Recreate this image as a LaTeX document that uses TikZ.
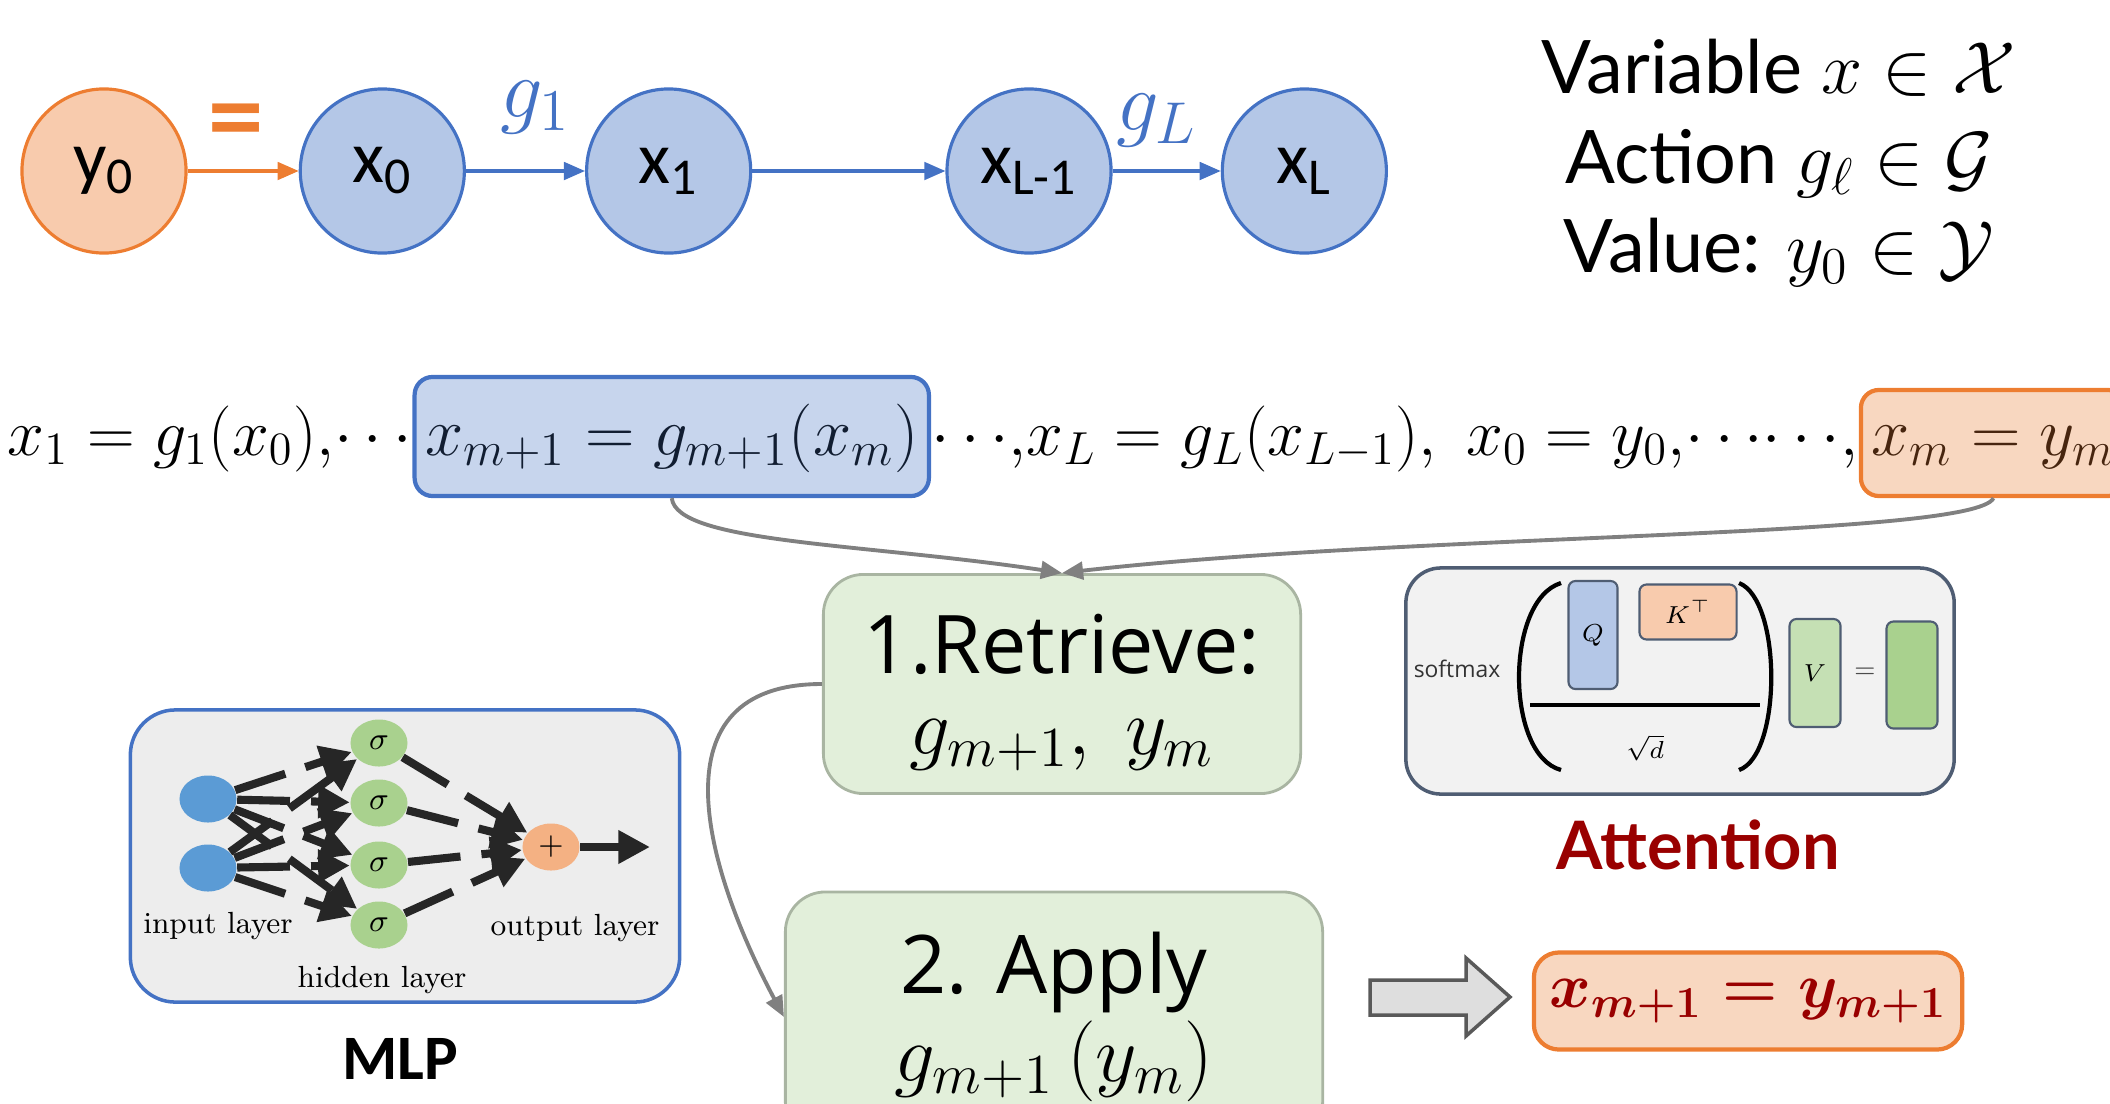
\RequirePackage{fix-cm}
\documentclass[tikz,border=0pt]{standalone}
\usepackage{amsmath,amssymb}
\usepackage{fontspec}
\usetikzlibrary{positioning,arrows.meta,shapes.geometric}

\newfontfamily\calibri{Carlito}
\newfontfamily\gillfont{Lato}
\newfontfamily\handfont{Open Sans}

\definecolor{accentorange}{HTML}{ED7D31}
\definecolor{peach}{HTML}{F8CBAD}
\definecolor{peachlight}{HTML}{F8D7C0}
\definecolor{accentblue}{HTML}{4472C4}
\definecolor{paleblue}{HTML}{B4C7E7}
\definecolor{eqblue}{HTML}{C7D5ED}
\definecolor{palegreen}{HTML}{E2EFDA}
\definecolor{greenedge}{HTML}{A9B5A2}
\definecolor{deepred}{HTML}{990000}
\definecolor{linkgray}{HTML}{808080}
\definecolor{slate}{HTML}{4F5D73}
\definecolor{unitblue}{HTML}{5B9BD5}
\definecolor{unitgreen}{HTML}{A9D18E}
\definecolor{unitorange}{HTML}{F4B183}
\definecolor{vgreen}{HTML}{C5E0B4}

\begin{document}
\begin{tikzpicture}[x=0.01cm, y=-0.01cm,
    var/.style={circle, draw=accentblue, fill=paleblue, line width=0.9pt, minimum size=1.64cm, inner sep=0pt, font=\calibri\fontsize{21}{21}\selectfont},
    val/.style={var, draw=accentorange, fill=peach},
    chainarrow/.style={line width=0.9pt, -{Triangle[length=6pt,width=5pt]}},
    eqbox/.style={rounded corners=0.18cm, line width=1.2pt, inner xsep=3pt, inner ysep=0pt, text depth=0.41cm, font=\fontsize{19.5}{22}\selectfont},
    eqfont/.style={font=\fontsize{18.8}{22}\selectfont},
    link/.style={draw=linkgray, line width=1.1pt, -{Triangle[length=6pt,width=5pt]}},
    stepbox/.style={rounded corners=0.4cm, draw=greenedge, fill=palegreen, line width=0.8pt, align=center, font=\handfont\fontsize{23}{25}\selectfont},
    neuron/.style={ellipse, inner sep=0pt, minimum width=0.57cm, minimum height=0.47cm, font=\fontsize{9}{9}\selectfont},
    mlpedge/.style={draw=black!85, line width=2.3pt, dash pattern=on 15pt off 6pt, -{Triangle[length=9pt,width=9pt]}},
    tag/.style={font=\fontsize{8.7}{9}\selectfont},
    mat/.style={rounded corners=2pt, draw=slate, line width=0.6pt, inner sep=0pt, font=\fontsize{7}{7}\selectfont}]
    \useasboundingbox (0,0) rectangle (2110,1103);

    % top chain
    \node[val] (y0) at (104,171) {y\textsubscript{0}};
    \node[var] (x0) [right=1.11cm of y0] {x\textsubscript{0}};
    \node[var] (x1) [right=1.19cm of x0] {x\textsubscript{1}};
    \node[var] (xl1) [right=1.93cm of x1] {x\textsubscript{L-1}};
    \node[var] (xl) [right=1.08cm of xl1] {x\textsubscript{L}};

    \draw[chainarrow, accentorange] (y0) -- node[yshift=0.42cm, xshift=-0.07cm, text=accentorange, font=\gillfont\bfseries\fontsize{30}{30}\selectfont] {=} (x0);
    \draw[chainarrow, accentblue] (x0) -- node[yshift=0.63cm, xshift=0.1cm, text=accentblue, font=\fontsize{24}{24}\selectfont] {$g_1$} (x1);
    \draw[chainarrow, accentblue] (x1) -- (xl1);
    \draw[chainarrow, accentblue] (xl1) -- node[yshift=0.5cm, xshift=-0.1cm, text=accentblue, font=\fontsize{24}{24}\selectfont] {$g_L$} (xl);

    % legend
    \node[align=center, font=\gillfont\fontsize{21}{25.5}\selectfont] (legend) at (1779,163)
        {Variable $x \in \mathcal{X}$\\ Action $g_\ell \in \mathcal{G}$\\ Value: $y_0 \in \mathcal{Y}$};

    % equation row
    \node[eqfont, anchor=base west, inner sep=0pt] (eqa) at (7,455) {$x_1 = g_1(x_0){,}{\cdots}$};
    \node[eqbox, fill=eqblue, draw=accentblue, text=black!75!accentblue, text height=0.78cm, anchor=base west] (blueeq) at (eqa.base east) {$x_{m+1} = g_{m+1}(x_m)$};
    \node[eqfont, anchor=base west, inner sep=0pt] (eqb) at (blueeq.base east) {${\cdots}{,}x_L = g_L(x_{L-1}),\; x_0 = y_0{,}{\cdots}{\cdots}{,}$};
    \node[eqbox, fill=peachlight, draw=accentorange, text=black!70!accentorange, text height=0.65cm, minimum width=2.62cm, anchor=base west] (orangeeq) at (eqb.base east) {$x_m = y_m$};

    % steps
    \node[stepbox, minimum width=4.77cm, minimum height=2.19cm, text depth=0pt, font=\handfont\fontsize{23}{23}\selectfont] (retrieve) at (1062,684) {1.Retrieve:\\ $g_{m+1},\ y_m$};
    \node[stepbox, minimum width=5.37cm, minimum height=2.5cm] (apply) at (1054,1017) {2. Apply\\ $g_{m+1}\,(y_m)$};

    \draw[link] (blueeq.south) .. controls +(5,45) and +(-200,-30) .. (retrieve.north);
    \draw[link] (orangeeq.south) .. controls +(-20,40) and +(350,-40) .. (retrieve.north);
    \draw[link] (retrieve.west) to[out=180, in=118, looseness=1.3] (apply.west);

    % result
    \draw[fill=black!13, draw=black!65, line width=1pt] (1370,980) -- (1466,980) -- (1466,958) -- (1510,997) -- (1466,1036) -- (1466,1015) -- (1370,1015) -- cycle;
    \node[rounded corners=0.25cm, fill=peachlight, draw=accentorange, line width=1.2pt, minimum width=4.28cm, minimum height=0.97cm, text=deepred, font=\fontsize{18}{22}\selectfont] (result) at (1748,1001) {$\boldsymbol{x_{m+1} = y_{m+1}}$};

    % attention
    \node[rounded corners=0.35cm, fill=black!5, draw=slate, line width=1pt, minimum width=5.48cm, minimum height=2.26cm] (attn) at (1680,681) {};
    \node[font=\handfont\fontsize{6.5}{7}\selectfont, text=black!80] (softmax) at (1457,669) {softmax};
    \draw[line width=1.2pt] (1561,583) .. controls (1505,600) and (1505,755) .. (1561,770);
    \draw[line width=1.2pt] (1739,583) .. controls (1782,600) and (1782,755) .. (1739,770);
    \draw[line width=1.2pt] (1530,705) -- (1760,705);
    \node[mat, fill=paleblue, minimum width=0.49cm, minimum height=1.08cm] (q) at (1593,635) {$Q$};
    \node[mat, fill=peach, minimum width=0.97cm, minimum height=0.55cm] (k) at (1688,612) {$K^{\top}$};
    \node[font=\fontsize{7}{7}\selectfont] (sqrtd) at (1645,748) {$\sqrt{d}$};
    \node[mat, fill=vgreen, minimum width=0.51cm, minimum height=1.08cm] (v) at (1815,673) {$V$};
    \node[font=\fontsize{7}{7}\selectfont, text=black!70] (eqsign) at (1865,673) {$=$};
    \node[mat, fill=unitgreen, minimum width=0.51cm, minimum height=1.07cm] (o) at (1912,675) {};
    \node[font=\gillfont\bfseries\fontsize{19}{19}\selectfont, text=deepred] (attnlabel) at (1698,845) {Attention};

    % mlp
    \node[rounded corners=0.45cm, fill=black!7, draw=accentblue, line width=1pt, minimum width=5.49cm, minimum height=2.92cm] (mlp) at (405,856) {};
    \node[neuron, fill=unitblue] (in1) at (208,799) {};
    \node[neuron, fill=unitblue] (in2) at (208,868) {};
    \foreach \i/\y in {1/743, 2/803, 3/865, 4/925}
        \node[neuron, fill=unitgreen] (hid\i) at (379,\y) {$\sigma$};
    \node[neuron, fill=unitorange] (out) at (551,847) {$+$};
    \coordinate (mlpend) at (650,847);
    \foreach \i in {1,2}
        \foreach \j in {1,...,4}
            \draw[mlpedge] (in\i) -- (hid\j);
    \foreach \j in {1,...,4}
        \draw[mlpedge] (hid\j) -- (out);
    \draw[mlpedge, solid] (out) -- (mlpend);
    \node[tag] (inlabel) at (218,926) {input layer};
    \node[tag] (outlabel) at (575,928) {output layer};
    \node[tag] (hidlabel) at (382,980) {hidden layer};
    \node[font=\calibri\bfseries\fontsize{18}{18}\selectfont] (mlplabel) at (400,1059) {MLP};
\end{tikzpicture}
\end{document}
